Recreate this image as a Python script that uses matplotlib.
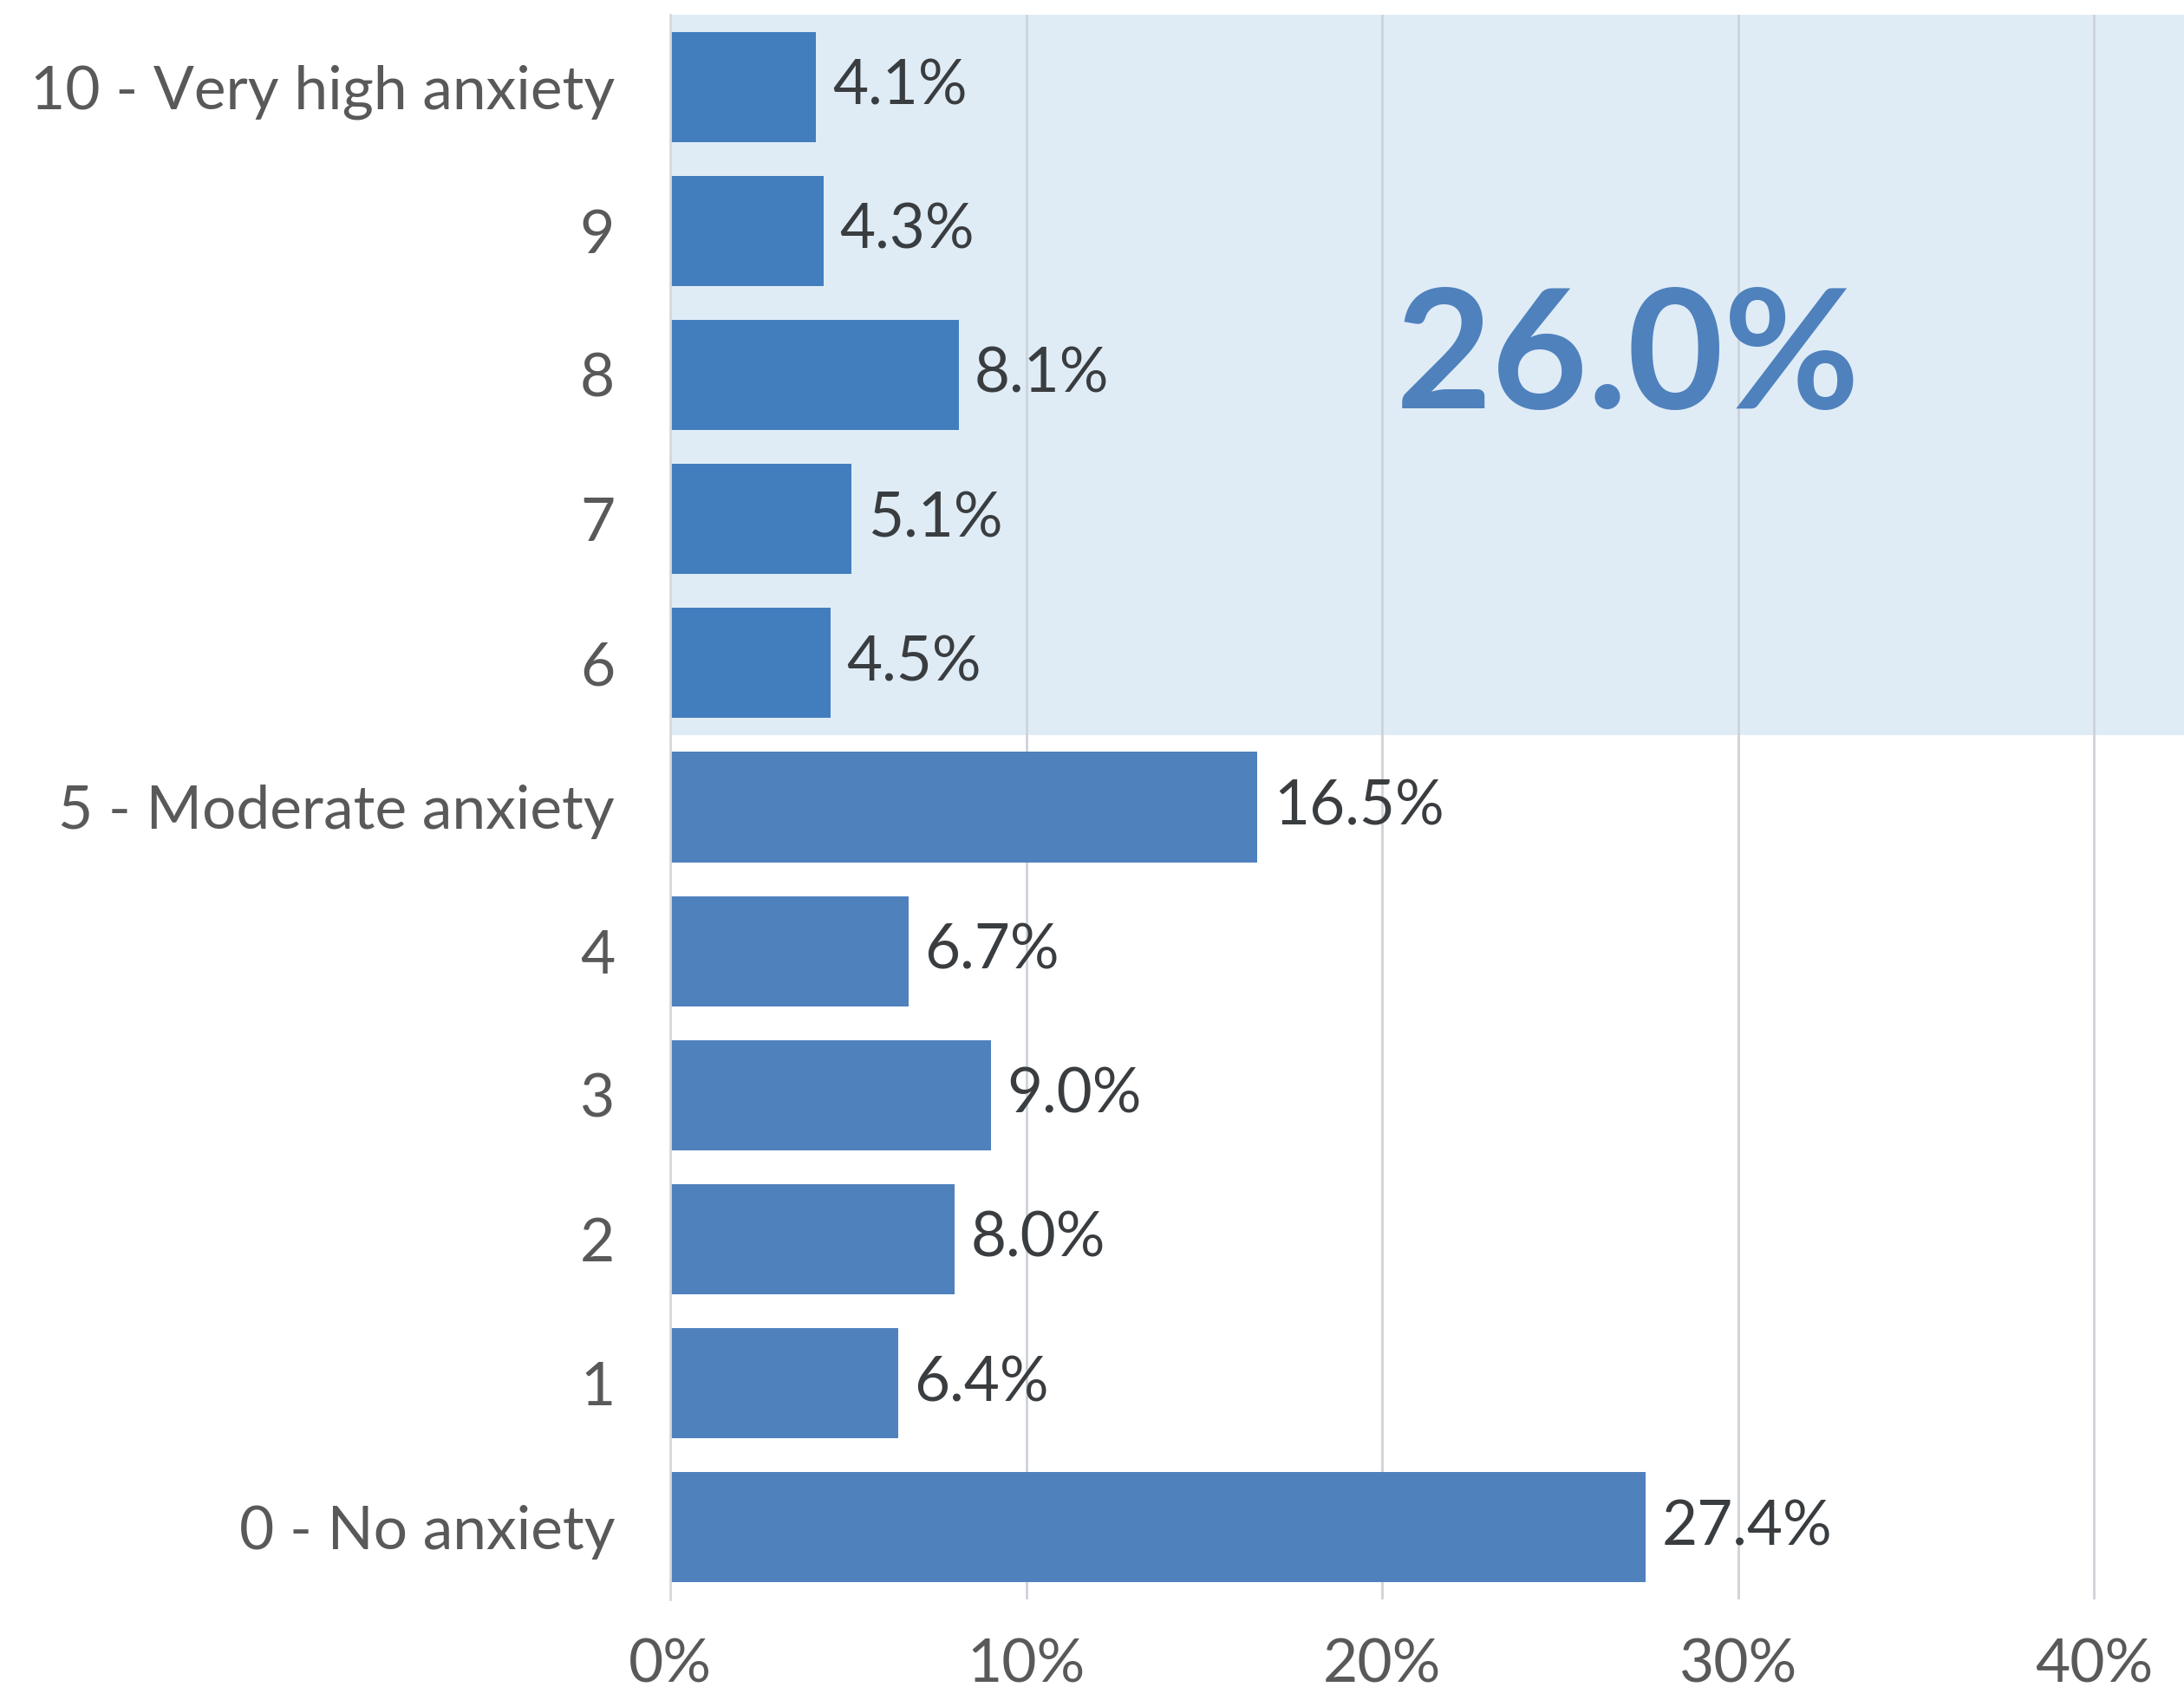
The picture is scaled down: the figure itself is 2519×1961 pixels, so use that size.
import matplotlib.pyplot as plt

# anxiety score distribution (share of respondents, %)
categories = ["0 - No anxiety", "1", "2", "3", "4", "5 - Moderate anxiety",
              "6", "7", "8", "9", "10 - Very high anxiety"]
shares = [27.4, 6.4, 8.0, 9.0, 6.7, 16.5, 4.5, 5.1, 8.1, 4.3, 4.1]
high_group_total = "26.0%"   # scores 6-10 combined
x_ticks = [0, 10, 20, 30, 40]

plt.rcParams["font.family"] = ["Lato", "DejaVu Sans"]

fig = plt.figure(figsize=(25.19, 19.61), dpi=100)
ax = fig.add_axes([0.3069, 0.0592, 0.6931, 0.9321])

y = list(range(len(categories)))
colors = ["#4F81BD" if i < 6 else "#427EBE" for i in y]

# highlight band behind scores 6-10
ax.axhspan(5.5, 10.6, color="#DFECF6", zorder=0, lw=0)

ax.barh(y, shares, height=0.765, color=colors, zorder=2)

for yi, v in zip(y, shares):
    ax.text(v + 0.45, yi, f"{v:.1f}%", va="center", ha="left",
            fontsize=51, color="#3A3D40", zorder=3)

ax.text(26.9, 8.1, high_group_total, ha="center", va="center",
        fontsize=138, fontweight="bold", color="#4F81BD", zorder=3)

ax.set_xlim(0, 42.53)
ax.set_ylim(-0.5, 10.5)
ax.set_xticks(x_ticks)
ax.set_xticklabels([f"{t}%" for t in x_ticks])
ax.set_yticks(y)
ax.set_yticklabels(categories)

ax.xaxis.grid(True, color="#CDD3D9", lw=2, zorder=1)
ax.set_axisbelow(True)
for s in ["top", "right", "bottom"]:
    ax.spines[s].set_visible(False)
ax.spines["left"].set_color("#D9D9D9")
ax.spines["left"].set_linewidth(2)

ax.tick_params(axis="both", length=0, labelsize=50, labelcolor="#595959")
ax.tick_params(axis="y", pad=46)
ax.tick_params(axis="x", pad=32)

plt.savefig("out.png", dpi=100)
plt.close()
